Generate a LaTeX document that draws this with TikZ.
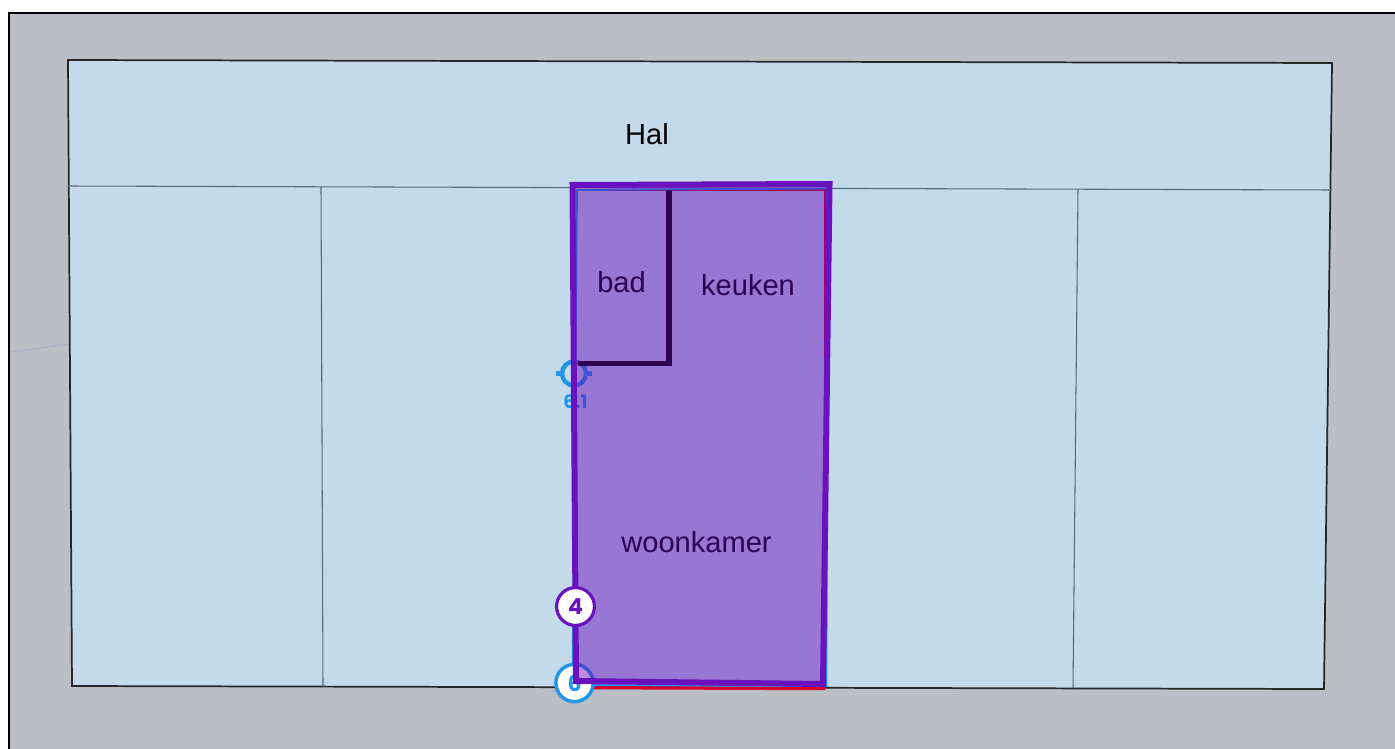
\documentclass[tikz,border=0pt]{standalone}
\usepackage{fontspec}
\setmainfont{Liberation Sans}
\newfontfamily\markfont{Poppins}[Scale=1]
\definecolor{pagegrey}{HTML}{BCBEC6}
\definecolor{planblue}{HTML}{C2DAEA}
\definecolor{overlayviolet}{HTML}{6400B8}
\definecolor{strokeviolet}{HTML}{6A12BD}
\definecolor{guideblue}{HTML}{2196E8}
\definecolor{guidered}{HTML}{D8002A}
\definecolor{gridline}{HTML}{5A6A74}
\tikzset{
  x=0.75pt,y=-0.75pt,
  roomlabel/.style={inner sep=0pt,font=\fontsize{21.8pt}{24pt}\selectfont,text=black},
  partition/.style={draw=gridline,line width=0.8pt},
  wall/.style={draw=black,line width=4pt,line join=miter},
}
\begin{document}
\begin{tikzpicture}
\useasboundingbox (0,0) rectangle (1395,749);
\fill[white] (0,0) rectangle (1395,749);
\fill[pagegrey] (9,13) rectangle (1395,749);
\draw[black,line width=2.1pt] (9,749) -- (9,13) -- (1395,13);
\draw[gray!80!blue!60,line width=0.9pt,densely dotted] (12,352) -- (68,344);
% plan
\draw[fill=planblue,draw=black!85,line width=1.3pt] (68,60) -- (1332,63) -- (1324,689) -- (72,686) -- cycle;
\draw[partition] (68,186) -- (1332,190);
\draw[partition] (321,187) -- (323,687);
\draw[partition] (1078,189) -- (1073,688);
\draw[guidered,line width=1.6pt] (578,190) -- (825,190) -- (825,688);
\draw[guidered,line width=2.6pt] (578,687.5) -- (825,688.5);
\draw[guideblue,line width=1.4pt] (577,190) -- (827,188.5) -- (826.5,686) -- (572.5,685) -- cycle;
% target marker
\node[draw=guideblue,line width=3.3pt,circle,minimum size=18pt,inner sep=0pt] (target) at (574,373.5) {};
\draw[guideblue,line width=3.3pt] (target.west) ++(-3.5,0) -- (target.west);
\draw[guideblue,line width=3.3pt] (target.east) ++(3.5,0) -- (target.east);
\node[text=guideblue,inner sep=0pt,font=\markfont\bfseries\fontsize{14pt}{15pt}\selectfont] (targetlabel) at (575.5,402) {6.1};
% end marker
\node[draw=guideblue,fill=white,line width=2.6pt,circle,minimum size=28pt,inner sep=0pt,
  text=guideblue,font=\markfont\bfseries\fontsize{16.5pt}{17pt}\selectfont] (endmark) at (574.5,683) {6};
% walls and labels, seen through the overlay
\draw[wall] (669,190) -- (669,363.5) -- (578,363.5);
\node[roomlabel] (hal) at (647,134) {Hal};
\node[roomlabel] (bad) at (621.5,282.5) {bad};
\node[roomlabel] (keuken) at (748,285) {keuken};
\node[roomlabel] (woonkamer) at (696.5,542) {woonkamer};
% overlay
\fill[overlayviolet,fill opacity=0.45] (572.5,185) -- (829.5,184) -- (823,684) -- (576,681) -- cycle;
\draw[strokeviolet,line width=4.5pt,line join=miter] (572.5,185) -- (829.5,184) -- (823,684) -- (576,681) -- cycle;
% step marker
\node[draw=strokeviolet,fill=white,line width=2.4pt,circle,minimum size=28.4pt,inner sep=0pt,
  text=strokeviolet,font=\markfont\bfseries\fontsize{16.5pt}{17pt}\selectfont] (stepmark) at (575.5,606.5) {4};
\end{tikzpicture}
\end{document}
